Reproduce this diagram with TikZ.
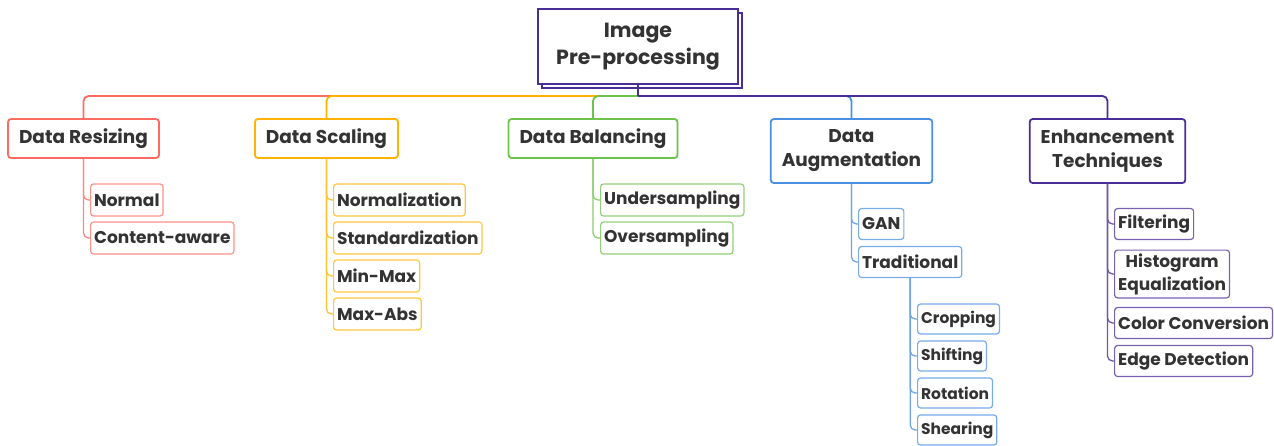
\documentclass[tikz,border=0pt]{standalone}
\usepackage{fontspec}
\setmainfont{Poppins}
\usetikzlibrary{shadows}
\definecolor{rootc}{HTML}{4A2D96}
\definecolor{redc}{HTML}{FF6B61}
\definecolor{orgc}{HTML}{FFB300}
\definecolor{grnc}{HTML}{6CC24A}
\definecolor{bluc}{HTML}{4A90E2}
\definecolor{txtc}{HTML}{333333}
\begin{document}
\begin{tikzpicture}[x=1pt,y=-1pt,
  root/.style={draw=rootc, line width=2pt, fill=white, text=txtc, minimum width=200pt, minimum height=75pt, align=center,
    font=\bfseries\fontsize{20.5}{27}\selectfont, copy shadow={shadow xshift=4pt, shadow yshift=-4pt}},
  topic/.style={draw=#1, line width=1.8pt, rounded corners=3pt, fill=white, text=txtc, minimum height=39pt, align=center,
    inner xsep=11pt, font=\bfseries\fontsize{18.5}{24}\selectfont},
  leaf/.style={draw=#1!75, line width=1.2pt, rounded corners=3pt, fill=white, text=txtc, minimum height=32pt, anchor=west,
    align=center, inner xsep=3.5pt, font=\bfseries\fontsize{17}{23}\selectfont},
  small/.style={leaf=#1, minimum height=30pt, font=\bfseries\fontsize{15.5}{20}\selectfont},
  link/.style={draw=#1, line width=1.8pt, rounded corners=5pt},
  sublink/.style={draw=#1!80, line width=1.3pt, rounded corners=5pt},
]
\useasboundingbox (0,0) rectangle (1274,445);

% root and main topics
\node[root] (root) at (638,46.5) {Image\\Pre-processing};
\coordinate (hub) at (638,96);
\foreach \n/\x/\c/\t in {resize/83.5/redc/Data Resizing, scale/326.5/orgc/Data Scaling, bal/593/grnc/Data Balancing}
  \node[topic=\c] (\n) at (\x,138.5) {\t};
\node[topic=bluc, minimum height=64pt] (aug) at (851.5,151) {Data\\Augmentation};
\node[topic=rootc, minimum height=64pt] (enh) at (1107.5,151) {Enhancement\\Techniques};
\foreach \n/\c in {resize/redc, scale/orgc, bal/grnc, aug/bluc, enh/rootc}
  \draw[link=\c] (hub) -| (\n.north);
\draw[link=rootc, rounded corners=0pt] (root.south) -- (hub);

% leaves
\foreach \n/\y/\t in {norm/200/Normal, cont/238/Content-aware}{
  \node[leaf=redc] (\n) at (90,\y) {\t};
  \draw[sublink=redc] (resize.south) |- (\n.west);
}
\foreach \n/\y/\t in {nrm/200/Normalization, std/238/Standardization, mm/276/Min-Max, ma/314/Max-Abs}{
  \node[leaf=orgc] (\n) at (333,\y) {\t};
  \draw[sublink=orgc] (scale.south) |- (\n.west);
}
\foreach \n/\y/\t in {under/200/Undersampling, over/238/Oversampling}{
  \node[leaf=grnc] (\n) at (600,\y) {\t};
  \draw[sublink=grnc] (bal.south) |- (\n.west);
}
\foreach \n/\y/\t in {gan/224/GAN, trad/262/Traditional}{
  \node[leaf=bluc, minimum height=31pt] (\n) at (858,\y) {\t};
  \draw[sublink=bluc] (aug.south) |- (\n.west);
}
\foreach \n/\y/\t in {crop/319/Cropping, shift/356/Shifting, rot/393/Rotation, shear/430/Shearing}{
  \node[small=bluc] (\n) at (917,\y) {\t};
  \draw[sublink=bluc] (trad.south) |- (\n.west);
}
\foreach \n/\y/\t in {filt/224/Filtering, hist/274/Histogram\\Equalization, col/323/Color Conversion, edge/361/Edge Detection}{
  \node[leaf=rootc, minimum height=31pt] (\n) at (1114,\y) {\t};
  \draw[sublink=rootc] (enh.south) |- (\n.west);
}
\end{tikzpicture}
\end{document}
